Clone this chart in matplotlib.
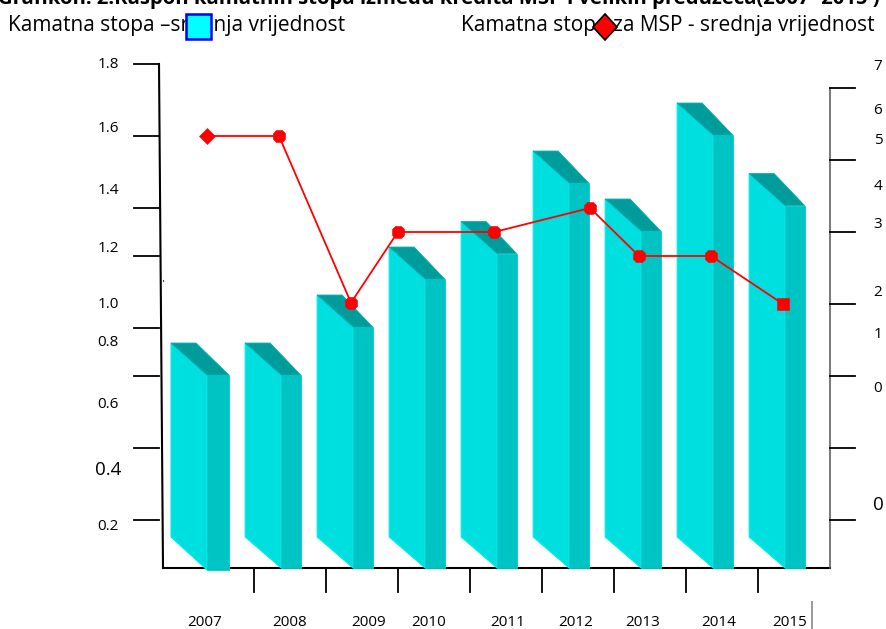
import matplotlib
matplotlib.use("Agg")
import matplotlib.pyplot as plt
from matplotlib.lines import Line2D
from matplotlib.patches import Rectangle, Polygon

years = ["2007", "2008", "2009", "2010", "2011", "2012", "2013", "2014", "2015"]
bar_values = [8.04, 8.04, 10.04, 12.04, 13.1, 16.04, 14.04, 18.04, 15.1]
bar_x = [0, 1.03, 2.03, 3.03, 4.03, 5.03, 6.03, 7.03, 8.03]
line_values = [18, 18, 11.05, 14, 14, 15, 13, 13, 11]
line_x = [0, 1, 2, 2.65, 3.99, 5.32, 6, 7, 8]
line_markers = ["D", "8", "8", "8", "8", "8", "8", "8", "s"]

left_labels = ["1.8", "1.6", "1.4", "1.2", "1.0", "0.8", "0.6", "0.4", "0.2"]
right_labels = ["7", "6", "5", "4", "3", "2", "1", "0", "0"]
title = "Grafikon. 2:Raspon kamatnih stopa između kredita MSP i velikih preduzeća(2007- 2015 )"
legend_bar = "Kamatna stopa –srednja vrijednost"
legend_line = "Kamatna stopa za MSP - srednja vrijednost"

W, H = 886, 629
FONT = ["Open Sans", "DejaVu Sans"]
plt.rcParams["font.family"] = FONT
fig = plt.figure(figsize=(W / 100, H / 100), dpi=100)
bg = fig.add_axes([0, 0, 1, 1])
bg.set_xlim(0, W); bg.set_ylim(H, 0); bg.axis("off")

ax = fig.add_axes([163 / W, 1 - 568 / H, 667 / W, 504 / H], zorder=2)
ax.set_xlim((163 - 207) / 72, (830 - 207) / 72)
ax.set_ylim(0, 21)
ax.axis("off")
ax.patch.set_alpha(0)

# axes furniture (pixel coordinates)
bg.add_line(Line2D([159, 163], [64, 568], color="black", lw=1.5))
bg.add_line(Line2D([163, 830], [568, 568], color="black", lw=1.5))
bg.add_line(Line2D([830, 830], [88, 568], color="#555555", lw=1.1))
for y in [64, 136, 208, 256, 328, 376, 448, 520]:
    bg.add_line(Line2D([134, 159], [y, y], color="black", lw=1.3))
for y in [88, 160, 232, 304, 376, 448, 520]:
    bg.add_line(Line2D([830, 855], [y, y], color="black", lw=1.3))
for x in [254, 326, 398, 470, 542, 614, 686, 758]:
    bg.add_line(Line2D([x, x], [568, 592], color="black", lw=1.3))
bg.add_line(Line2D([812, 812], [602, 629], color="#999999", lw=1.4))
bg.add_line(Line2D([163.5, 163.5], [279.5, 281], color="#444444", lw=0.8))

# bars
for i, (x, v) in enumerate(zip(bar_x, bar_values)):
    left = x - 36 / 72
    back = x - 11 / 72
    right = x + (22 if i == 0 else 19.5) / 72
    depth = 32 / 24
    base = -0.08 if i == 0 else 0
    parts = [
        ([(left, v + depth), (x, v), (x, base), (left, depth - 0.04)], "#00DFDF", "#00EDED", 0.8),
        ([(x, v), (right, v), (right, base), (x, base)], "#00C4C4", "#00CCCC", 0.6),
        ([(left, v + depth), (back, v + depth), (right, v), (x, v)], "#009C9C", "#00B0B0", 0.6),
    ]
    for pts, fc, ec, lw in parts:
        ax.add_patch(Polygon(pts, fc=fc, ec=ec, lw=lw, clip_on=False))

# line
ax.plot(line_x, line_values, color="#FF0000", lw=1.3, zorder=5)
for x, v, m in zip(line_x, line_values, line_markers):
    ms = {"D": 8.6, "8": 9.8, "s": 8.0}[m]
    ax.plot([x], [v], marker=m, ms=ms, mfc="#FF0000", mec="#FF0000", mew=0.4,
            ls="none", zorder=6)

# text
small = 11
for s, y in zip(left_labels, [64, 128, 191, 249, 304, 342, 404, 470, 527]):
    bg.text(108, y, s, ha="center", va="center", fontsize=13.5 if s == "0.4" else small)
for s, y, fs in zip(right_labels, [66, 111, 140, 186, 225, 293, 335, 389, 505],
                    [small] * 8 + [13.5]):
    bg.text(878, y, s, ha="center", va="center", fontsize=fs)
for s, x in zip(years, [205, 290, 369, 429, 508, 576, 643, 719, 790]):
    bg.text(x, 625.5, s, ha="center", va="baseline", fontsize=small)

bg.text(880, -1, title, ha="right", va="center", fontsize=14.6, fontweight="bold")
bg.text(8, 25, legend_bar, ha="left", va="center", fontsize=15)
bg.text(461, 25, legend_line, ha="left", va="center", fontsize=15)
bg.add_patch(Rectangle((186, 14), 25, 25, fc="#00FFFF", ec="#0000FF", lw=1.8, zorder=5))
bg.add_patch(Polygon([(605, 14), (617, 27), (605, 40), (593, 27)],
                     fc="#FF0000", ec="black", lw=1.2, zorder=5))

fig.savefig("out.png", dpi=100)
